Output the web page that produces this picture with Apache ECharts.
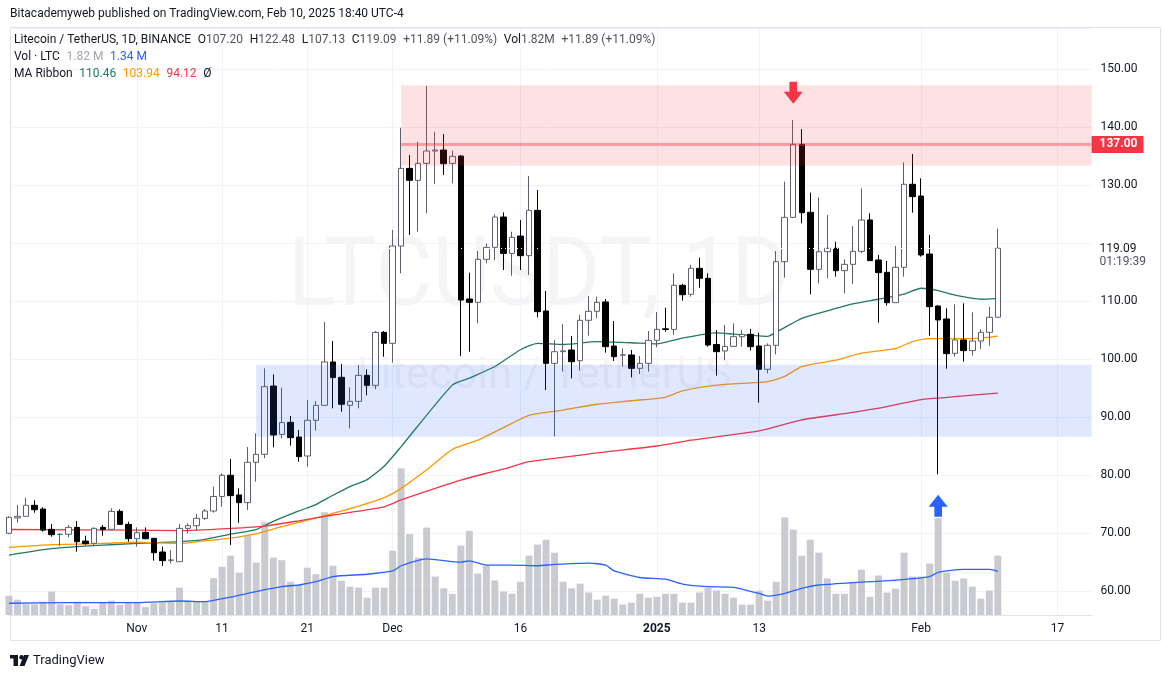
<!DOCTYPE html>
<html><head><meta charset="utf-8">
<script src="https://cdn.jsdelivr.net/npm/echarts@6/dist/echarts.min.js"></script>
<style>html,body{margin:0;padding:0;background:#fff}#c{width:1166px;height:677px}</style>
</head><body><div id="c"></div><script>
// ---- data (LTC/USDT daily, Oct 17 2024 – Feb 10 2025) ----
const opens = [69.94,72.6,72.87,74.77,74.13,70.63,69.75,69.78,70.97,68.6,68.21,70.97,70.63,73.73,71.49,69.02,70.1,69.08,66.72,65.3,
65.05,70.8,71.26,72.52,73.79,76.3,79.95,76.56,75.23,82.19,83.57,95.34,87.01,89.08,86.55,83.28,89.43,92.01,99.49,96.84,
92.01,92.7,97.18,95.46,104.59,102.7,119.48,132.87,130.8,133.73,135.86,136.03,133.73,134.99,110.34,109.77,117.18,119.25,124.48,118.21,
121.2,117.82,125.63,108.28,99.25,101.26,101.55,99.71,106.67,108.22,109.83,102.24,100.66,100.69,98.39,99.25,103.22,105.2,105.1,112.7,
111.15,115.63,113.91,102.5,101.38,102.18,103.85,104.25,102.24,98.22,102.36,116.78,124.42,137.01,125.29,115.46,118.5,119.08,115.23,116.32,
118.56,123.97,117.07,114.95,109.71,115.81,130.12,128.1,118.1,109.14,106.9,100.98,103.28,101.44,103.1,104.6,107.20];
const highs = [72.9,74.82,76.09,75.63,74.42,71.55,69.9,71.38,72.06,69.54,70.97,71.38,74.25,74.08,71.95,70.97,70.97,69.1,67.64,67.06,
71.55,71.66,73.27,74.13,77.98,80.29,82.76,77.7,84.83,87.19,98.39,97.36,95.06,90.18,87.76,92.93,92.76,106.38,103.11,99.14,
95.12,98.96,98.21,104.82,104.82,122.24,139.88,135.17,137.47,147.07,139.19,138.79,135.92,135.17,114.88,118.62,119.94,124.94,125.28,121.95,
123.96,131.55,129.14,111.72,103.28,106.03,103.97,107.59,110.86,110.75,110.34,106.55,101.84,101.55,100.52,104.83,108.1,108.85,114.77,112.95,
116.21,117.47,114.77,105.0,105.86,106.15,105.0,105.17,104.54,102.7,118.62,130.57,141.21,139.65,128.68,127.87,124.83,120.23,117.18,122.93,
129.42,125.12,117.93,116.9,119.48,133.91,135.35,131.15,121.38,109.2,108.74,109.43,109.6,108.05,105.12,109.02,122.48];
const lows = [69.8,71.78,72.8,73.5,70.23,69.36,67.75,69.25,66.78,67.98,67.75,69.54,70.6,71.4,68.5,67.64,68.9,65.23,64.3,64.77,
65.0,69.94,70.5,72.24,73.5,74.54,67.93,71.78,73.97,78.85,82.88,84.77,86.33,85.06,82.3,81.44,87.65,92.0,91.5,90.92,
88.04,91.49,93.73,94.77,100.4,99.36,114.77,121.38,121.95,125.11,130.17,131.72,130.28,100.51,101.26,106.15,116.49,117.07,115.34,114.36,
115.34,114.48,107.18,94.65,86.61,97.82,96.67,97.99,104.02,107.01,101.09,99.65,98.68,96.84,97.41,97.82,102.01,104.71,104.14,110.06,
110.75,112.3,102.13,97.13,99.83,102.1,102.13,101.44,92.47,97.53,100.8,114.02,124.3,123.39,111.15,113.04,113.91,114.19,111.32,112.93,
118.22,116.9,106.27,109.2,109.7,114.2,125.23,117.65,104.02,80.12,98.33,100.4,99.54,100.58,101.73,102.3,107.13];
const closes = [72.7,72.87,74.77,74.02,70.51,69.71,69.78,70.97,68.5,68.16,70.8,70.63,73.73,71.49,69.02,70.05,69.02,66.6,65.23,65.34,
70.8,71.26,72.52,73.79,76.3,79.95,76.44,75.23,82.19,83.57,95.23,86.9,89.03,86.44,83.16,89.43,92.01,99.49,96.79,92.19,
92.7,97.18,95.46,104.59,102.7,119.48,132.87,130.8,133.73,135.86,136.03,133.67,134.94,110.17,109.77,117.18,119.25,124.48,118.21,120.97,
117.81,125.63,108.16,99.25,101.26,101.4,99.54,106.67,108.22,109.77,102.13,100.4,100.72,98.39,99.25,103.22,105.11,105.1,112.7,111.09,
115.63,113.91,102.41,101.26,102.18,103.85,104.25,102.13,98.22,102.36,116.78,124.42,137.01,125.23,115.46,118.5,119.08,115.23,116.32,118.56,
123.96,116.96,114.89,109.71,115.81,130.12,127.99,117.93,109.02,106.73,100.92,103.28,101.44,103.1,104.6,107.19,119.09];
const volumes = [0.59,0.47,0.33,0.33,0.41,0.72,0.33,0.30,0.41,0.27,0.19,0.37,0.44,0.31,0.40,0.40,0.24,0.36,0.38,0.40,
0.84,0.43,0.43,0.41,1.13,1.48,1.82,1.30,2.46,1.61,2.84,1.76,1.68,1.02,0.92,1.45,1.25,3.15,1.51,1.05,
0.87,0.84,0.53,0.84,0.84,1.97,4.50,2.48,1.76,2.68,1.18,0.82,0.65,2.13,2.58,1.27,1.51,1.06,0.72,0.65,
1.02,1.82,2.16,2.31,1.91,1.02,0.82,0.96,0.69,0.47,0.59,0.50,0.32,0.38,0.65,0.53,0.56,0.65,0.65,0.38,
0.38,0.69,0.84,0.75,0.65,0.53,0.32,0.32,0.75,0.44,1.02,2.99,2.62,1.82,2.31,1.91,1.12,0.65,0.65,1.02,
1.39,0.56,1.21,0.69,0.81,1.91,1.18,1.18,1.58,2.97,1.30,1.05,1.12,0.87,0.50,0.75,1.82];
// MA ribbon lines: [dayIndex, value]
const maFast = [[0,66.2],[5,67.3],[11,67.9],[15,68.2],[20,68.5],[23,68.9],[26,69.8],[29,70.6],[31,72.0],[34,73.8],[36,74.9],[38,76.5],[40,78.0],[42,79.2],[44,81.5],[46,84.9],[52,95.5],[54,96.7],[57,98.7],[60,101.6],[62,102.7],[65,102.5],[69,103.0],[73,102.8],[76,102.6],[79,103.6],[83,104.5],[85,104.3],[89,103.9],[90,104.6],[93,107.0],[96,108.3],[99,109.5],[102,110.3],[105,111.2],[107,112.2],[109,111.8],[111,111.0],[114,110.3],[116,110.46]];
const maMid = [[0,67.5],[5,68.0],[11,68.2],[15,68.4],[20,68.2],[24,68.8],[26,69.1],[29,69.9],[32,71.1],[36,72.6],[40,74.2],[44,76.1],[46,77.7],[49,80.9],[52,84.4],[55,86.0],[59,88.9],[61,90.3],[65,91.2],[69,92.2],[73,92.8],[77,93.4],[79,94.5],[83,95.5],[87,95.9],[89,96.1],[91,97.0],[93,98.7],[97,99.8],[100,101.0],[104,101.8],[106,103.0],[108,103.5],[111,103.5],[114,103.6],[116,103.94]];
const maSlow = [[0,70.6],[15,70.5],[20,70.4],[26,70.8],[30,71.2],[34,72.1],[38,73.1],[44,74.5],[46,75.7],[50,77.7],[53,79.1],[56,80.3],[58,81.0],[61,82.3],[68,83.6],[70,84.0],[76,85.0],[80,86.0],[88,87.6],[93,89.5],[99,90.8],[103,91.8],[107,93.0],[111,93.5],[116,94.12]];
const volMa = [[0,0.36],[7,0.38],[15,0.38],[20,0.43],[23,0.41],[26,0.55],[29,0.72],[32,0.87],[34,0.92],[36,1.02],[38,1.18],[42,1.25],[45,1.35],[46,1.51],[49,1.72],[53,1.62],[54,1.66],[56,1.53],[59,1.53],[62,1.51],[64,1.55],[68,1.59],[70,1.53],[71,1.35],[74,1.15],[77,1.10],[79,0.95],[82,0.87],[85,0.85],[88,0.66],[89,0.58],[91,0.66],[93,0.82],[95,0.92],[99,0.99],[104,1.07],[108,1.18],[109,1.31],[112,1.40],[115,1.40],[116,1.34]];
// x-axis tick labels (day index → text)
const tickIdx = [15,25,35,45,60,76,88,107,123];
const tickText = ['Nov','11','21','Dec','16','2025','13','Feb','17'];
// annotations
const redZone = [133.3, 147.2];
const blueZone = [86.6, 99.0];
const resistance = 137.00;
const lastPrice = 119.09;

// ---- build ----
const nCats = 128;
const start = Date.UTC(2024, 9, 17);
const cats = [];
for (let i = 0; i < nCats; i++) cats.push(new Date(start + i * 86400000).toISOString().slice(0, 10));
const ohlc = opens.map((o, i) => [o, closes[i], lows[i], highs[i]]);
const last = nCats - 1;
const FONT = "Roboto, 'Liberation Sans', sans-serif";

const chart = echarts.init(document.getElementById('c'));
chart.setOption({
  animation: false,
  backgroundColor: '#ffffff',
  textStyle: { fontFamily: FONT },
  grid: { left: 9, right: 74.4, top: 28, bottom: 62, containLabel: false },
  xAxis: [{
    type: 'category', data: cats, boundaryGap: false,
    axisLine: { lineStyle: { color: '#e0e3eb' } }, axisTick: { show: false },
    axisLabel: {
      interval: (i) => tickIdx.includes(i), color: '#131722', fontSize: 12, margin: 8,
      formatter: (v, i) => { const k = tickIdx.indexOf(i); if (k < 0) return ''; const t = tickText[k]; return t === '2025' ? '{b|2025}' : t; },
      rich: { b: { fontWeight: 'bold', fontSize: 12, color: '#131722' } }
    },
    splitLine: { show: true, interval: (i) => tickIdx.includes(i), lineStyle: { color: '#f0f3fa' } }
  }],
  yAxis: [{
    type: 'value', position: 'right', min: 55.86, max: 157.07, splitNumber: 10, scale: true,
    axisLine: { show: false }, axisTick: { show: false },
    splitLine: { lineStyle: { color: '#f0f3fa' } },
    axisLabel: {
      color: '#131722', fontSize: 12, margin: 9, showMinLabel: false, showMaxLabel: false,
      formatter: (v) => (Math.abs(v - 120) < 0.01 || Math.abs(v - Math.round(v / 10) * 10) > 0.01) ? '' : v.toFixed(2)
    }
  }, { type: 'value', min: 0, max: 18, show: false, splitLine: { show: false } }],
  series: [
    { name: 'Vol', type: 'bar', yAxisIndex: 1, data: volumes, barWidth: 7, z: 1,
      itemStyle: { color: 'rgba(190,192,199,0.82)' } },
    { name: 'VolMA', type: 'line', yAxisIndex: 1, data: volMa, showSymbol: false, smooth: 0.2, z: 2,
      lineStyle: { color: '#2962ff', width: 1.3 } },
    { name: 'MA1', type: 'line', data: maFast, showSymbol: false, smooth: 0.2, z: 2, lineStyle: { color: '#1e7a66', width: 1.3 } },
    { name: 'MA2', type: 'line', data: maMid, showSymbol: false, smooth: 0.2, z: 2, lineStyle: { color: '#ff9800', width: 1.3 } },
    { name: 'MA3', type: 'line', data: maSlow, showSymbol: false, smooth: 0.2, z: 2, lineStyle: { color: '#f23645', width: 1.3 } },
    { name: 'LTCUSDT', type: 'candlestick', data: ohlc, barWidth: 6, z: 3,
      itemStyle: { color: '#ffffff', color0: '#000000', borderColor: '#5d606b', borderColor0: '#000000', borderWidth: 1 } },
    { name: 'annot', type: 'line', data: [], clip: false, z: 5,
      markArea: { z: 10, silent: true, data: [
        [{ coord: [46, redZone[1]], itemStyle: { color: 'rgba(242,54,69,0.15)' } }, { coord: [last, redZone[0]] }],
        [{ coord: [29, blueZone[1]], itemStyle: { color: 'rgba(41,98,255,0.15)' } }, { coord: [last, blueZone[0]] }]
      ] },
      markLine: { z: 11, silent: true, symbol: ['none', 'none'], data: [
        [{ coord: [46, resistance], lineStyle: { color: 'rgba(242,54,69,0.4)', width: 3, type: 'solid' },
           label: { show: true, position: 'end', distance: 0, formatter: '137.00', backgroundColor: '#f23645', color: '#ffffff',
                    fontWeight: 'bold', fontSize: 12, padding: [3, 6, 2, 8] } },
         { coord: [last, resistance] }],
        [{ coord: [0, lastPrice], lineStyle: { color: '#ffffff', width: 1, type: [1, 3] },
           label: { show: true, position: 'end', distance: 0, backgroundColor: '#ffffff', padding: [14, 6, 0, 8],
                    formatter: '{a|119.09}\n{b|01:19:39}',
                    rich: { a: { color: '#131722', fontSize: 12, lineHeight: 13 }, b: { color: '#50535e', fontSize: 12, lineHeight: 13 } } } },
         { coord: [last, lastPrice] }]
      ] },
      markPoint: { z: 12, silent: true, label: { show: false }, data: [
        { coord: [92, 145.9], symbol: 'path://M6,0 L14,0 L14,10 L20,10 L10,22 L0,10 L6,10 Z', symbolSize: [19, 22], itemStyle: { color: '#f23645' } },
        { coord: [109, 74.7], symbol: 'path://M10,0 L20,12 L14,12 L14,22 L6,22 L6,12 L0,12 Z', symbolSize: [19, 22], itemStyle: { color: '#2962ff' } }
      ] }
    }
  ],
  graphic: [
    { type: 'rect', z: -10, silent: true, shape: { x: 10.5, y: 27.5, width: 1150, height: 613 }, style: { fill: 'none', stroke: '#e0e3eb', lineWidth: 1 } },
    { type: 'text', z: 0, silent: true, x: 288, y: 233, scaleX: 0.92, style: { text: 'LTCUSDT, 1D', font: "96px Roboto, sans-serif", fill: 'rgba(19,23,34,0.042)' } },
    { type: 'text', z: 0, silent: true, x: 357, y: 355, style: { text: 'Litecoin / TetherUS', font: "44px Roboto, sans-serif", fill: 'rgba(19,23,34,0.045)' } },
    { type: 'text', z: 20, silent: true, left: 10, top: 8, style: { text: 'Bitacademyweb published on TradingView.com, Feb 10, 2025 18:40 UTC-4', font: "12px Roboto, sans-serif", fill: '#131722' } },
    { type: 'text', z: 20, silent: true, left: 14, top: 34, style: {
      text: '{t|Litecoin / TetherUS, 1D, BINANCE}  {t|O}{v|107.20}  {t|H}{v|122.48}  {t|L}{v|107.13}  {t|C}{v|119.09}  {v|+11.89 (+11.09%)}  {t|Vol}{v|1.82}{v|M}  {v|+11.89 (+11.09%)}',
      rich: { t: { fontSize: 12, fill: '#131722', fontFamily: FONT }, v: { fontSize: 12, fill: '#50535e', fontFamily: FONT } } } },
    { type: 'text', z: 20, silent: true, left: 14, top: 51, style: {
      text: '{t|Vol · LTC}  {g|1.82 M}  {b|1.34 M}',
      rich: { t: { fontSize: 12, fill: '#131722', fontFamily: FONT }, g: { fontSize: 12, fill: '#a3a6af', fontFamily: FONT }, b: { fontSize: 12, fill: '#2962ff', fontFamily: FONT } } } },
    { type: 'text', z: 20, silent: true, left: 14, top: 68, style: {
      text: '{t|MA Ribbon}  {g|110.46}  {o|103.94}  {r|94.12}  {t|Ø}',
      rich: { t: { fontSize: 12, fill: '#131722', fontFamily: FONT }, g: { fontSize: 12, fill: '#1e7a66', fontFamily: FONT }, o: { fontSize: 12, fill: '#ff9800', fontFamily: FONT }, r: { fontSize: 12, fill: '#f23645', fontFamily: FONT } } } },
    { type: 'group', z: 20, silent: true, left: 10, top: 654, children: [
      { type: 'rect', shape: { x: 0, y: 0, width: 8, height: 3.5 }, style: { fill: '#131722' } },
      { type: 'rect', shape: { x: 3.5, y: 0, width: 4.5, height: 11 }, style: { fill: '#131722' } },
      { type: 'circle', shape: { cx: 11.5, cy: 2.2, r: 2.2 }, style: { fill: '#131722' } },
      { type: 'polygon', shape: { points: [[14, 0], [19, 0], [14.5, 11], [9.5, 11]] }, style: { fill: '#131722' } },
      { type: 'text', x: 23, y: -1, style: { text: 'TradingView', font: "13px Roboto, sans-serif", fill: '#131722' } }
    ] }
  ]
});
</script></body></html>
